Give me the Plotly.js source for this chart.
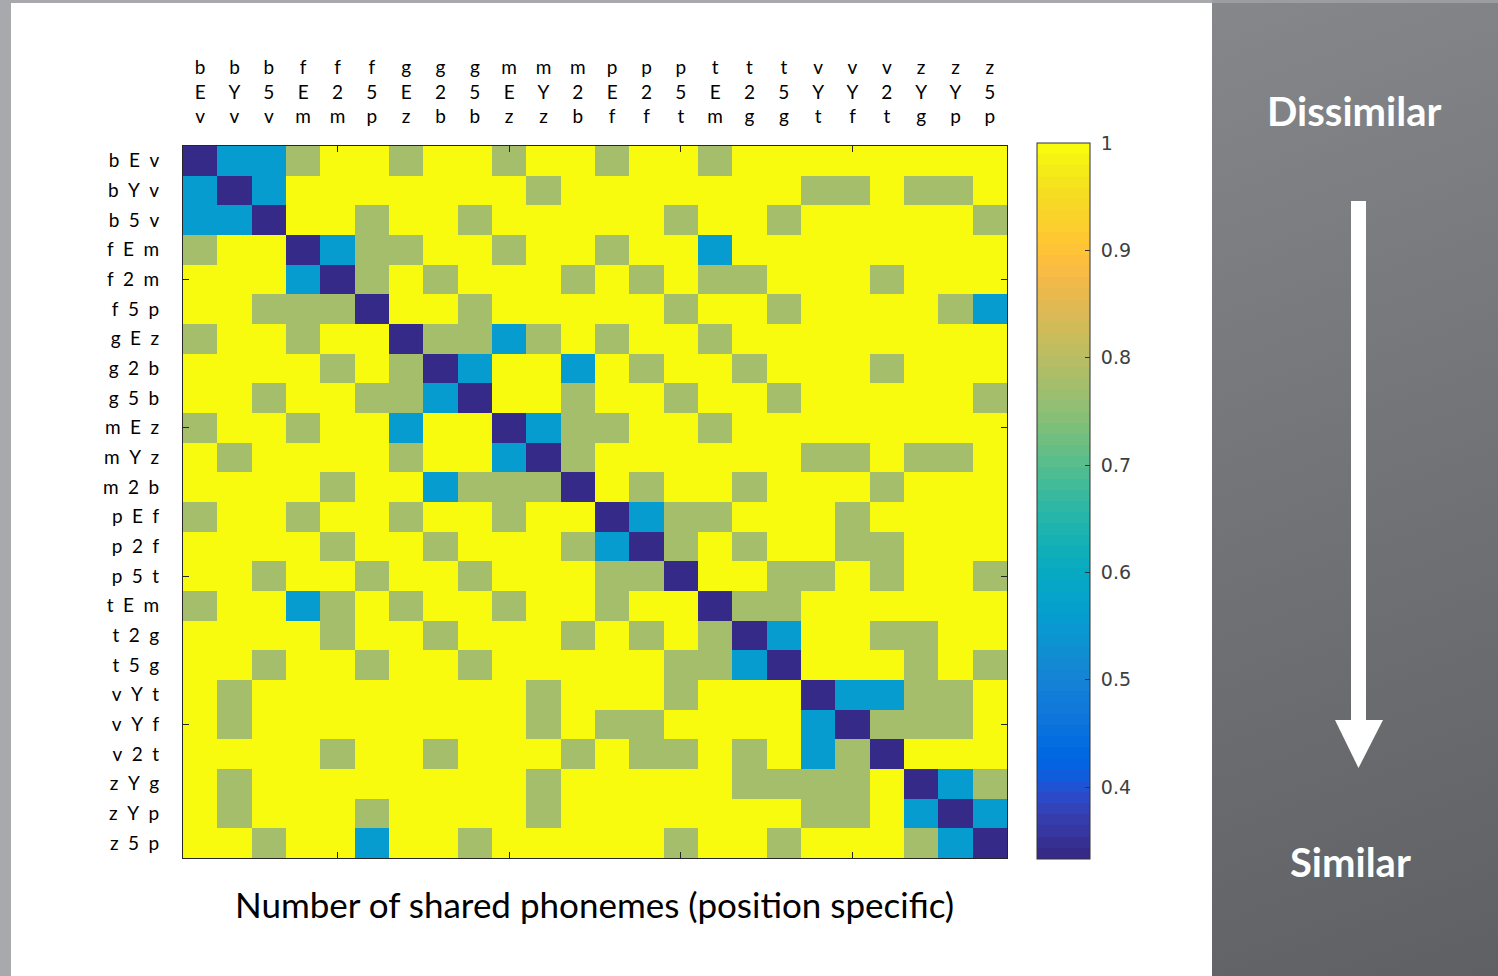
<!DOCTYPE html>
<html><head><meta charset="utf-8">
<script src="https://cdn.plot.ly/plotly-3.0.1.min.js"></script>
<style>
html,body{margin:0;padding:0;width:1498px;height:976px;overflow:hidden;background:#fff;}
#bgleft{position:absolute;left:0;top:0;width:11px;height:976px;background:#a7a9ac;}
#bgtop{position:absolute;left:0;top:0;width:1212px;height:3px;background:#a7a9ac;}
#panel{position:absolute;left:1212px;top:0;width:286px;height:976px;background:linear-gradient(160deg,#85878a 0%,#717376 50%,#5e6064 100%);}
#paneltop{position:absolute;left:1212px;top:0;width:286px;height:3px;background:#9b9da0;}
#chart{position:absolute;left:0;top:0;width:1498px;height:976px;}
</style></head>
<body>
<div id="bgleft"></div><div id="bgtop"></div><div id="panel"></div><div id="paneltop"></div>
<div id="chart"></div>
<script>
// Stimulus labels (onset, vowel, coda)
const labels = ['bEv','bYv','b5v','fEm','f2m','f5p','gEz','g2b','g5b','mEz','mYz','m2b',
                'pEf','p2f','p5t','tEm','t2g','t5g','vYt','vYf','v2t','zYg','zYp','z5p'];

// Dissimilarity matrix (rows top→bottom, columns left→right)
const dissim = [
 [0.333,0.556,0.556,0.778,1,1,0.778,1,1,0.778,1,1,0.778,1,1,0.778,1,1,1,1,1,1,1,1],
 [0.556,0.333,0.556,1,1,1,1,1,1,1,0.778,1,1,1,1,1,1,1,0.778,0.778,1,0.778,0.778,1],
 [0.556,0.556,0.333,1,1,0.778,1,1,0.778,1,1,1,1,1,0.778,1,1,0.778,1,1,1,1,1,0.778],
 [0.778,1,1,0.333,0.556,0.778,0.778,1,1,0.778,1,1,0.778,1,1,0.556,1,1,1,1,1,1,1,1],
 [1,1,1,0.556,0.333,0.778,1,0.778,1,1,1,0.778,1,0.778,1,0.778,0.778,1,1,1,0.778,1,1,1],
 [1,1,0.778,0.778,0.778,0.333,1,1,0.778,1,1,1,1,1,0.778,1,1,0.778,1,1,1,1,0.778,0.556],
 [0.778,1,1,0.778,1,1,0.333,0.778,0.778,0.556,0.778,1,0.778,1,1,0.778,1,1,1,1,1,1,1,1],
 [1,1,1,1,0.778,1,0.778,0.333,0.556,1,1,0.556,1,0.778,1,1,0.778,1,1,1,0.778,1,1,1],
 [1,1,0.778,1,1,0.778,0.778,0.556,0.333,1,1,0.778,1,1,0.778,1,1,0.778,1,1,1,1,1,0.778],
 [0.778,1,1,0.778,1,1,0.556,1,1,0.333,0.556,0.778,0.778,1,1,0.778,1,1,1,1,1,1,1,1],
 [1,0.778,1,1,1,1,0.778,1,1,0.556,0.333,0.778,1,1,1,1,1,1,0.778,0.778,1,0.778,0.778,1],
 [1,1,1,1,0.778,1,1,0.556,0.778,0.778,0.778,0.333,1,0.778,1,1,0.778,1,1,1,0.778,1,1,1],
 [0.778,1,1,0.778,1,1,0.778,1,1,0.778,1,1,0.333,0.556,0.778,0.778,1,1,1,0.778,1,1,1,1],
 [1,1,1,1,0.778,1,1,0.778,1,1,1,0.778,0.556,0.333,0.778,1,0.778,1,1,0.778,0.778,1,1,1],
 [1,1,0.778,1,1,0.778,1,1,0.778,1,1,1,0.778,0.778,0.333,1,1,0.778,0.778,1,0.778,1,1,0.778],
 [0.778,1,1,0.556,0.778,1,0.778,1,1,0.778,1,1,0.778,1,1,0.333,0.778,0.778,1,1,1,1,1,1],
 [1,1,1,1,0.778,1,1,0.778,1,1,1,0.778,1,0.778,1,0.778,0.333,0.556,1,1,0.778,0.778,1,1],
 [1,1,0.778,1,1,0.778,1,1,0.778,1,1,1,1,1,0.778,0.778,0.556,0.333,1,1,1,0.778,1,0.778],
 [1,0.778,1,1,1,1,1,1,1,1,0.778,1,1,1,0.778,1,1,1,0.333,0.556,0.556,0.778,0.778,1],
 [1,0.778,1,1,1,1,1,1,1,1,0.778,1,0.778,0.778,1,1,1,1,0.556,0.333,0.778,0.778,0.778,1],
 [1,1,1,1,0.778,1,1,0.778,1,1,1,0.778,1,0.778,0.778,1,0.778,1,0.556,0.778,0.333,1,1,1],
 [1,0.778,1,1,1,1,1,1,1,1,0.778,1,1,1,1,1,0.778,0.778,0.778,0.778,1,0.333,0.556,0.778],
 [1,0.778,1,1,1,0.778,1,1,1,1,0.778,1,1,1,1,1,1,1,0.778,0.778,1,0.556,0.333,0.556],
 [1,1,0.778,1,1,0.556,1,1,0.778,1,1,1,1,1,0.778,1,1,0.778,1,1,1,0.778,0.556,0.333]
];

const cbTickVals = [0.4,0.5,0.6,0.7,0.8,0.9,1];
const cbTickText = ['0.4','0.5','0.6','0.7','0.8','0.9','1'];
const titleText = 'Number of shared phonemes (position specific)';

// parula colormap (64 steps)
const parula = [
[0.2081,0.1663,0.5292],[0.2116,0.1898,0.5777],[0.2123,0.2138,0.6270],[0.2081,0.2386,0.6771],
[0.1959,0.2645,0.7279],[0.1707,0.2919,0.7792],[0.1253,0.3242,0.8303],[0.0591,0.3598,0.8683],
[0.0117,0.3875,0.8820],[0.0060,0.4086,0.8828],[0.0165,0.4266,0.8786],[0.0329,0.4430,0.8720],
[0.0498,0.4586,0.8641],[0.0629,0.4737,0.8554],[0.0723,0.4887,0.8467],[0.0779,0.5040,0.8384],
[0.0793,0.5200,0.8312],[0.0749,0.5375,0.8263],[0.0641,0.5570,0.8240],[0.0488,0.5772,0.8228],
[0.0343,0.5966,0.8199],[0.0265,0.6137,0.8135],[0.0239,0.6287,0.8038],[0.0231,0.6418,0.7913],
[0.0228,0.6535,0.7768],[0.0267,0.6642,0.7607],[0.0384,0.6743,0.7436],[0.0590,0.6838,0.7254],
[0.0843,0.6928,0.7062],[0.1133,0.7015,0.6859],[0.1453,0.7098,0.6646],[0.1801,0.7177,0.6424],
[0.2178,0.7250,0.6193],[0.2586,0.7317,0.5954],[0.3022,0.7376,0.5712],[0.3482,0.7424,0.5473],
[0.3953,0.7459,0.5244],[0.4420,0.7481,0.5033],[0.4871,0.7491,0.4840],[0.5300,0.7491,0.4661],
[0.5709,0.7485,0.4494],[0.6099,0.7473,0.4337],[0.6473,0.7456,0.4188],[0.6834,0.7435,0.4044],
[0.7184,0.7411,0.3905],[0.7525,0.7384,0.3768],[0.7858,0.7356,0.3633],[0.8185,0.7327,0.3498],
[0.8507,0.7299,0.3360],[0.8824,0.7274,0.3217],[0.9139,0.7258,0.3063],[0.9450,0.7261,0.2886],
[0.9739,0.7314,0.2666],[0.9938,0.7455,0.2403],[0.9990,0.7653,0.2164],[0.9955,0.7861,0.1967],
[0.9880,0.8066,0.1794],[0.9789,0.8271,0.1633],[0.9697,0.8481,0.1475],[0.9626,0.8705,0.1309],
[0.9589,0.8949,0.1132],[0.9598,0.9218,0.0948],[0.9661,0.9514,0.0755],[0.9763,0.9831,0.0538]];
const colorscale = [];
parula.forEach((c,i)=>{
  const col = 'rgb('+c.map(v=>Math.round(v*255)).join(',')+')';
  colorscale.push([i/64, col]);
  colorscale.push([(i+1)/64, col]);
});

const W = 1498, H = 976;
const px = x => x / W;
const py = y => 1 - y / H;

const idx = labels.map((_, i) => i);
const xText = labels.map(s => s.split('').join('<br>'));
const yText = labels.map(s => s.split('').join('\u2002'));

const heat = {
  type: 'heatmap',
  z: dissim, x: idx, y: idx,
  zmin: 0.333, zmax: 1,
  colorscale: colorscale,
  hoverinfo: 'skip',
  colorbar: {
    thickness: 53, thicknessmode: 'pixels',
    len: 716, lenmode: 'pixels',
    x: px(1037), xanchor: 'left', xpad: 0,
    y: py(501), yanchor: 'middle', ypad: 0,
    outlinewidth: 1, outlinecolor: '#333',
    ticks: 'inside', ticklen: 5, tickcolor: '#333', tickwidth: 1,
    tickvals: cbTickVals, ticktext: cbTickText.map(t => '\u00a0' + t),
    tickfont: {family: 'DejaVu Sans, sans-serif', size: 19, color: '#404040'}
  }
};
const dummy = {type:'scatter', x:[], y:[], xaxis:'x2', yaxis:'y2', hoverinfo:'skip', showlegend:false};

const lblFont = {family: 'Lato, sans-serif', size: 19, color: '#000'};
const layout = {
  width: W, height: H,
  margin: {l:0, r:0, t:0, b:0},
  paper_bgcolor: 'rgba(0,0,0,0)', plot_bgcolor: 'rgba(0,0,0,0)',
  showlegend: false,
  xaxis: {
    domain: [px(183), px(1007)], range: [-0.5, 23.5], side: 'top',
    tickvals: idx, ticktext: xText, ticks: '', tickfont: lblFont,
    ticklabelstandoff: 14,
    showline: true, mirror: true, linecolor: '#262626', linewidth: 1,
    showgrid: false, zeroline: false, fixedrange: true
  },
  yaxis: {
    domain: [py(858), py(146)], range: [23.5, -0.5],
    tickvals: idx, ticktext: yText, ticks: '', tickfont: lblFont,
    ticklabelstandoff: 19,
    showline: true, mirror: true, linecolor: '#262626', linewidth: 1,
    showgrid: false, zeroline: false, fixedrange: true
  },
  xaxis2: {
    overlaying: 'x', anchor: 'y2', side: 'bottom', range: [-0.5, 23.5],
    tickvals: [4, 9, 14, 19], ticks: 'inside', ticklen: 6, tickcolor: '#262626',
    showticklabels: false, showline: false, mirror: 'ticks', showgrid: false, zeroline: false
  },
  yaxis2: {
    overlaying: 'y', anchor: 'x2', side: 'left', range: [23.5, -0.5],
    tickvals: [4, 9, 14, 19], ticks: 'inside', ticklen: 6, tickcolor: '#262626',
    showticklabels: false, showline: false, mirror: 'ticks', showgrid: false, zeroline: false
  },
  annotations: [
    {text: titleText, xref:'paper', yref:'paper', x: px(594), y: py(904),
     xanchor:'center', yanchor:'middle', showarrow:false,
     font:{family:'Lato, sans-serif', size:35, color:'#000'}},
    {text: 'Dissimilar', xref:'paper', yref:'paper', x: px(1354), y: py(111),
     xanchor:'center', yanchor:'middle', showarrow:false,
     font:{family:'Lato, sans-serif', size:40, color:'#fff', weight:'bold'}},
    {text: 'Similar', xref:'paper', yref:'paper', x: px(1350), y: py(862),
     xanchor:'center', yanchor:'middle', showarrow:false,
     font:{family:'Lato, sans-serif', size:40, color:'#fff', weight:'bold'}}
  ],
  shapes: [
    {type:'rect', xref:'paper', yref:'paper', x0: px(1351), x1: px(1366), y0: py(722), y1: py(201),
     fillcolor:'#fff', line:{width:0}},
    {type:'path', xref:'paper', yref:'paper',
     path: 'M '+px(1335)+' '+py(720)+' L '+px(1383)+' '+py(720)+' L '+px(1358.5)+' '+py(768)+' Z',
     fillcolor:'#fff', line:{width:0}}
  ]
};

Plotly.newPlot('chart', [heat, dummy], layout, {displayModeBar:false, staticPlot:true});
</script>
</body></html>
